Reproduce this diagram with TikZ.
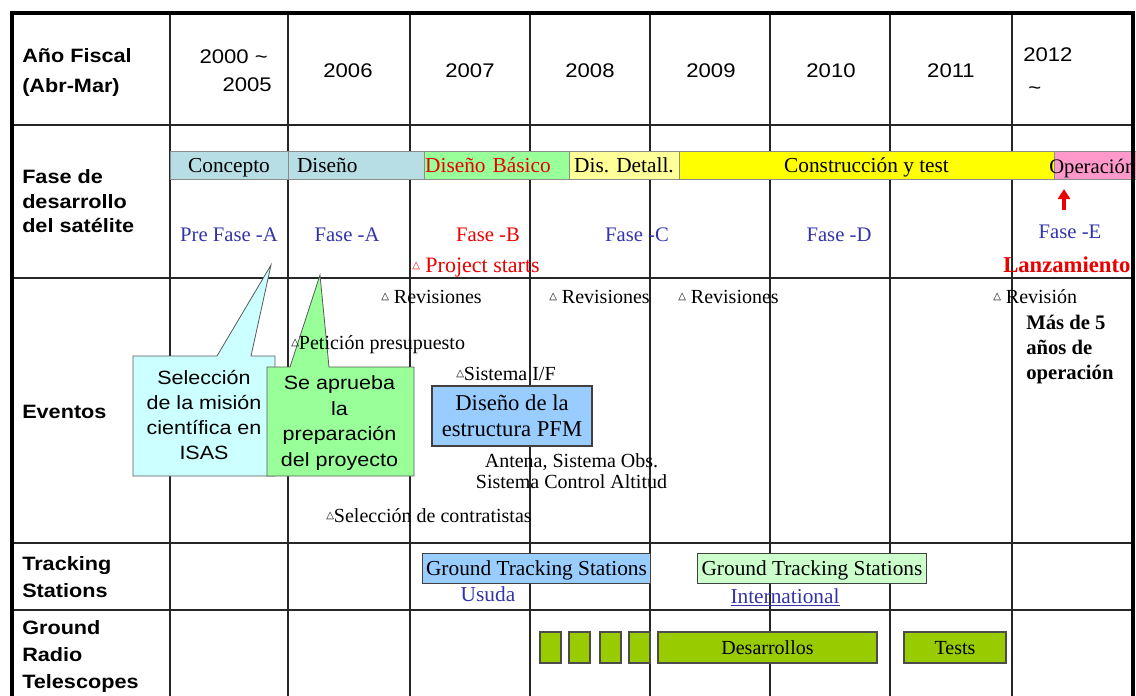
\documentclass[tikz,border=0pt]{standalone}
\usepackage{fontspec}
\setmainfont{Liberation Serif}
\setsansfont[FakeStretch=1.12]{Liberation Sans}
\newfontfamily\symfont{DejaVu Sans}
\usetikzlibrary{arrows.meta,positioning}

\definecolor{fasblue}{RGB}{51,51,170}
\definecolor{fasred}{RGB}{235,0,0}
\definecolor{barcyan}{RGB}{183,222,228}
\definecolor{bargreen}{RGB}{153,255,153}
\definecolor{barcream}{RGB}{255,255,153}
\definecolor{baryellow}{RGB}{255,255,0}
\definecolor{barpink}{RGB}{255,153,204}
\definecolor{callcyan}{RGB}{204,255,255}
\definecolor{boxblue}{RGB}{153,204,255}
\definecolor{boxmint}{RGB}{204,255,204}
\definecolor{radiogreen}{RGB}{153,204,0}

\newcommand\evmark{\raisebox{2.4pt}{\symfont\fontsize{7.5}{7.5}\selectfont △}}

\begin{document}
\begin{tikzpicture}[x=0.75pt,y=-0.75pt,
  gridline/.style={line width=1.8pt,black!85},
  outerframe/.style={line width=3pt,black},
  rowhead/.style={font=\sffamily\bfseries\fontsize{14.5}{19}\selectfont,align=left,inner sep=0,anchor=west},
  year/.style={font=\sffamily\fontsize{14.8}{18}\selectfont,inner sep=0,anchor=base},
  phasebar/.style={draw=black!45,line width=0.5pt,minimum height=21pt,inner sep=0,
                   font=\fontsize{16}{18}\selectfont,text height=11pt,text depth=0pt},
  fase/.style={font=\fontsize{15.5}{18}\selectfont,text=fasblue,inner sep=0,anchor=base},
  event/.style={font=\fontsize{15}{17}\selectfont,inner sep=0,anchor=base west},
  bubble/.style={draw=black!65,line width=0.6pt},
  calltext/.style={font=\sffamily\fontsize{14.4}{18.75}\selectfont,align=center,inner sep=0},
  tsbox/.style={draw=black!75,line width=0.8pt,minimum width=171.5pt,minimum height=22pt,inner sep=0,
                font=\fontsize{16}{18}\selectfont,text height=10.9pt,text depth=0pt},
  radiobox/.style={draw=black!70,fill=radiogreen,line width=0.8pt,minimum height=23.25pt,inner sep=0,
                   font=\fontsize{15}{17}\selectfont,text height=10.2pt,text depth=0pt},
  launch/.style={-{Triangle[length=7.5pt,width=9pt]},line width=3pt,fasred}
]
  \useasboundingbox (0,0) rectangle (1136,696);

  % table grid
  \foreach \gx in {170,288,410,530,650,770,890,1012}
    \draw[gridline] (\gx,13) -- (\gx,700);
  \foreach \gy in {125,278,543,610}
    \draw[gridline] (12,\gy) -- (1133,\gy);

  % row headings
  \node[rowhead,font=\sffamily\bfseries\fontsize{14.5}{22.5}\selectfont] (hfiscal) at (22,73) {Año Fiscal\\(Abr-Mar)};
  \node[rowhead,font=\sffamily\bfseries\fontsize{14.5}{18.4}\selectfont] (hfase) at (22,201.5) {Fase de\\desarrollo\\del satélite};
  \node[rowhead,anchor=base west] (heventos) at (22,418) {Eventos};
  \node[rowhead,font=\sffamily\bfseries\fontsize{14.5}{20.25}\selectfont] (htracking) at (22,577.5) {Tracking\\Stations};
  \node[rowhead,font=\sffamily\bfseries\fontsize{14.5}{20.25}\selectfont] (hradio) at (22,656) {Ground\\Radio\\Telescopes};

  % years
  \node[year,anchor=base east] (y2000) at (268,63) {2000 \textasciitilde};
  \node[year,anchor=base east] (y2005) at (272,91) {2005};
  \node[year] (y2006) at (348,77) {2006};
  \node[year] (y2007) at (470,77) {2007};
  \node[year] (y2008) at (590,77) {2008};
  \node[year] (y2009) at (711,77) {2009};
  \node[year] (y2010) at (831,77) {2010};
  \node[year] (y2011) at (951,77) {2011};
  \node[year,anchor=base west] (y2012) at (1023,61) {2012};
  \node[year,anchor=base west] (y2012t) at (1028,94) {\textasciitilde};

  % development phases
  \node[phasebar,fill=barcyan,minimum width=88.5pt] (concepto) at (229,165) {Concepto};
  \node[phasebar,fill=barcyan,minimum width=102pt,text width=88.5pt,align=left,inner xsep=6.75pt] (diseno) at (356,165) {Diseño};
  \node[phasebar,fill=bargreen,minimum width=108.75pt,text width=107pt,align=left,inner xsep=0.875pt,text=fasred] (basico) at (496.5,165) {Diseño Básico};
  \node[phasebar,fill=barcream,minimum width=82.5pt] (detall) at (624,165) {Dis. Detall.};
  \node[phasebar,fill=baryellow,minimum width=281.25pt] (constru) at (866.5,165) {Construcción y test};
  \node[phasebar,fill=barpink,minimum width=61.5pt] (operbar) at (1095,165) {};
  \node[event,font=\fontsize{15.5}{18}\selectfont] (operacion) at (1049,173) {Operación};

  \node[fase] (prefaseA) at (229,241) {Pre Fase -A};
  \node[fase] (faseA) at (347,241) {Fase -A};
  \node[fase,text=fasred] (faseB) at (488,241) {Fase -B};
  \node[fase] (faseC) at (637,241) {Fase -C};
  \node[fase] (faseD) at (839,241) {Fase -D};
  \node[fase] (faseE) at (1070,238) {Fase -E};
  \node[event,text=fasred,font=\fontsize{16.5}{18}\selectfont] (starts) at (412,272) {\evmark\ Project starts};
  \node[event,text=fasred,font=\bfseries\fontsize{17}{19}\selectfont] (lanza) at (1003,272) {Lanzamiento};
  \coordinate (launchtail) at (1064,210);
  \coordinate (launchtip) at (1064,189);
  \draw[launch] (launchtail) -- (launchtip);

  % callouts
  \coordinate (selectip) at (271,265);
  \coordinate (aprutip) at (320,275);
  \filldraw[bubble,fill=callcyan] (133,356) -- (217,356) -- (selectip) -- (251,356)
    -- (275,356) -- (275,476) -- (133,476) -- cycle;
  \node[calltext] (seleccion) at (204,415.5) {Selección\\de la misión\\científica en\\ISAS};
  \filldraw[bubble,fill=bargreen] (267,367) -- (290,367) -- (aprutip) -- (329,367)
    -- (414,367) -- (414,476) -- (267,476) -- cycle;
  \node[calltext,font=\sffamily\fontsize{14.4}{19.2}\selectfont] (aprueba) at (339.5,423) {Se aprueba\\la\\preparación\\del proyecto};

  % events
  \node[event] (rev1) at (381,303) {\evmark\ Revisiones};
  \node[event] (rev2) at (549,303) {\evmark\ Revisiones};
  \node[event] (rev3) at (678,303) {\evmark\ Revisiones};
  \node[event] (rev4) at (993,303) {\evmark\ Revisión};
  \node[event] (peticion) at (291,349) {\evmark Petición presupuesto};
  \node[event] (sisif) at (456,380) {\evmark Sistema I/F};
  \node[draw=black!75,line width=0.8pt,fill=boxblue,minimum width=120pt,minimum height=45pt,inner sep=0,
        align=center,font=\fontsize{17}{19.5}\selectfont] (pfmbox) at (512,416) {Diseño de la\\estructura PFM};
  \node[event,anchor=center,align=center,font=\fontsize{15}{15.75}\selectfont] (antena) at (571.5,471.5)
    {Antena, Sistema Obs.\\Sistema Control Altitud};
  \node[event] (contrat) at (326,522) {\evmark Selección de contratistas};
  \node[event,anchor=west,align=left,font=\bfseries\fontsize{15.5}{18.75}\selectfont] (cinco) at (1026,350)
    {Más de 5\\años de\\operación};

  % tracking stations
  \node[tsbox,fill=boxblue] (usudabox) at (536.5,568.5) {Ground Tracking Stations};
  \node[fase,font=\fontsize{16}{18}\selectfont] (usuda) at (488,601) {Usuda};
  \node[tsbox,fill=boxmint] (intlbox) at (812,568.5) {Ground Tracking Stations};
  \node[fase,font=\fontsize{16}{18}\selectfont] (intl) at (785,603) {\underline{International}};

  % ground radio telescopes
  \foreach \rx [count=\ri] in {550.5,579.5,610.5,639.5}
    \node[radiobox,minimum width=15.75pt] (radio\ri) at (\rx,647.5) {};
  \node[radiobox,minimum width=164.25pt] (desarrollos) at (767.5,647.5) {Desarrollos};
  \node[radiobox,minimum width=76.5pt] (tests) at (955,647.5) {Tests};

  % outer frame
  \draw[outerframe] (12,700) -- (12,13) -- (1133,13) -- (1133,700);
\end{tikzpicture}
\end{document}
